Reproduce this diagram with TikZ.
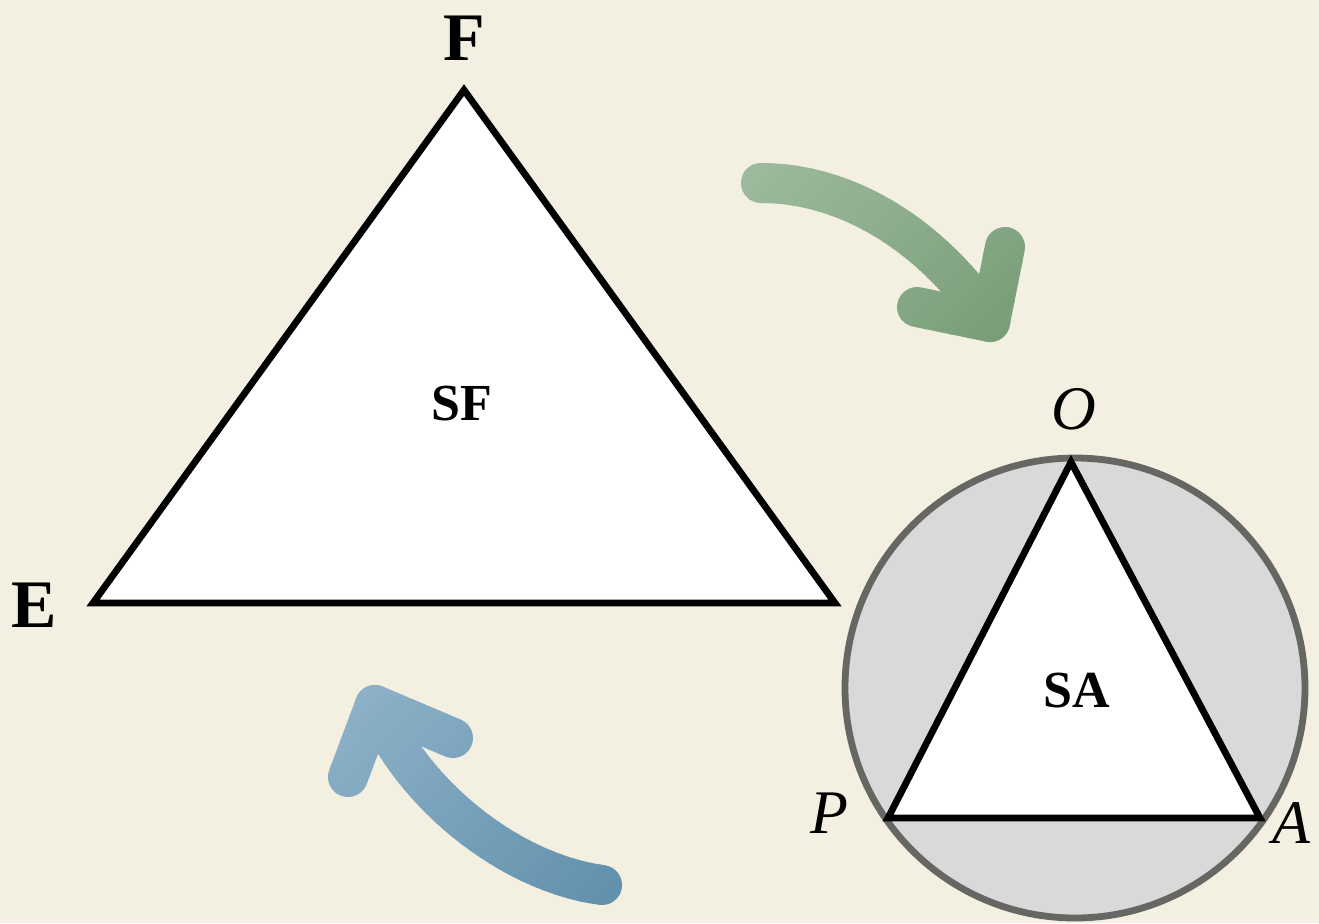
\documentclass[tikz,border=0pt]{standalone}
\usepackage{fontspec}
\setmainfont{Liberation Serif}
\definecolor{paper}{HTML}{F3F0E1}
\definecolor{ringgray}{HTML}{666662}
\definecolor{diskgray}{HTML}{D9D9D9}
\definecolor{sagelight}{HTML}{9EBB9D}
\definecolor{sagedark}{HTML}{769B76}
\definecolor{steellight}{HTML}{90B4CA}
\definecolor{steeldark}{HTML}{5F8EAA}
\tikzset{
  bigletter/.style={font=\fontsize{34}{40}\selectfont\bfseries,inner sep=0pt},
  setname/.style={font=\fontsize{26}{30}\selectfont\bfseries,inner sep=0pt},
  vertex/.style={font=\fontsize{31}{36}\selectfont\itshape,inner sep=0pt},
  bendarrow/.style={line width=20pt,line cap=round,line join=round},
}
\begin{document}
\begin{tikzpicture}[x=0.5pt,y=-0.5pt]
            \useasboundingbox (0,0) rectangle (1319,923);
            \fill[paper] (0,0) rectangle (1319,923);

            % velky trojuhelnik
            \coordinate (E) at (93,603);
            \coordinate (F) at (464,90);
            \coordinate (G) at (835,603);
            \filldraw[fill=white,line width=3.4pt] (E)--(F)--(G)--cycle;

            % kruh s vepsanym trojuhelnikem
            \coordinate (M) at (1075,688);
            \filldraw[fill=diskgray,draw=ringgray,line width=3.4pt] (M) circle[radius=115pt];
            \coordinate (O) at (1071,462);
            \coordinate (P) at (888,818);
            \coordinate (A) at (1260,818);
            \filldraw[fill=white,line width=3.4pt] (O)--(P)--(A)--cycle;

            \node[bigletter,anchor=base] (lF) at (464,60) {F};
            \node[bigletter,anchor=base] (lE) at (34,627) {E};
            \node[setname,anchor=base] (lSF) at (462,420) {SF};
            \node[setname,anchor=base] (lSA) at (1077,707) {SA};
            \node[vertex,anchor=base] (lO) at (1074,429) {O};
            \node[vertex,anchor=base] (lP) at (829,833) {P};
            \node[vertex,anchor=base west] (lA) at (1272,843) {A};

            % zelena sipka (prechod barvy po pruzich)
            \coordinate (g0) at (761,183);
            \coordinate (g1) at (990,322);
            \coordinate (g2) at (1005,247);
            \coordinate (g3) at (917,307);
            \foreach \i in {0,...,29}{
              \pgfmathsetmacro\sa{900+\i*16}
              \pgfmathsetmacro\sb{\sa+18}
              \pgfmathtruncatemacro\p{\i*100/29}
              \begin{scope}
                \clip (\sa-100,100) -- (\sb-100,100) -- (\sb-400,400) -- (\sa-400,400) -- cycle;
                \colorlet{cur}{sagedark!\p!sagelight}
                \draw[bendarrow,cur] (g0) .. controls (850,183) and (935,239) .. (g1);
                \draw[bendarrow,cur] (g2) -- (g1) -- (g3);
              \end{scope}
            }

            % modra sipka
            \coordinate (b0) at (602,885);
            \coordinate (b1) at (375,705);
            \coordinate (b2) at (348,777);
            \coordinate (b3) at (453,738);
            \foreach \i in {0,...,33}{
              \pgfmathsetmacro\sa{1000+\i*16}
              \pgfmathsetmacro\sb{\sa+18}
              \pgfmathtruncatemacro\p{\i*100/33}
              \begin{scope}
                \clip (\sa-600,600) -- (\sb-600,600) -- (\sb-1000,1000) -- (\sa-1000,1000) -- cycle;
                \colorlet{cur}{steeldark!\p!steellight}
                \draw[bendarrow,cur] (b0) .. controls (512,873) and (414,797) .. (b1);
                \draw[bendarrow,cur] (b2) -- (b1) -- (b3);
              \end{scope}
            }
        \end{tikzpicture}
\end{document}
